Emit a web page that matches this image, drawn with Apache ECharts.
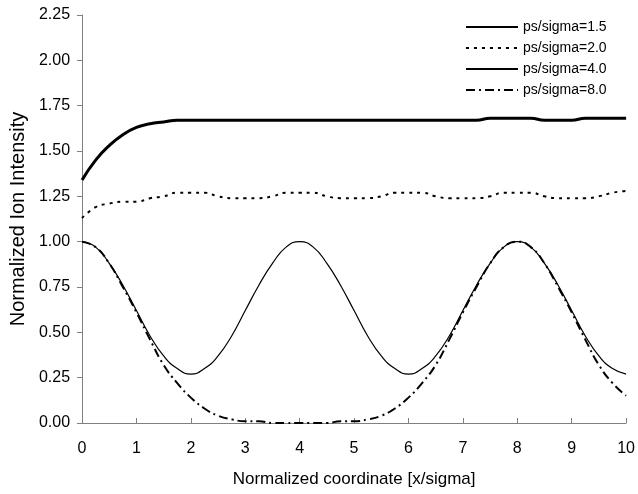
<!DOCTYPE html>
<html>
<head>
<meta charset="utf-8">
<script src="https://cdn.jsdelivr.net/npm/echarts@6/dist/echarts.min.js"></script>
<style>
  html, body { margin: 0; padding: 0; background: #fff; }
  #container { width: 638px; height: 494px; }
</style>
</head>
<body>
<div id="container"></div>
<script>
// x positions (normalized coordinate x/sigma), step 0.25
var xs = [
  0, 0.25, 0.5, 0.75, 1, 1.25, 1.5, 1.75, 2, 2.25, 2.5, 2.75, 3, 3.25, 3.5, 3.75,
  4, 4.25, 4.5, 4.75, 5, 5.25, 5.5, 5.75, 6, 6.25, 6.5, 6.75, 7, 7.25, 7.5, 7.75,
  8, 8.25, 8.5, 8.75, 9, 9.25, 9.5, 9.75, 10
];

// ps/sigma=1.5 (thick solid)
var ps15 = [
  1.34, 1.45, 1.53, 1.59, 1.63, 1.65, 1.66, 1.67, 1.67, 1.67, 1.67, 1.67, 1.67, 1.67, 1.67, 1.67,
  1.67, 1.67, 1.67, 1.67, 1.67, 1.67, 1.67, 1.67, 1.67, 1.67, 1.67, 1.67, 1.67, 1.67, 1.68, 1.68,
  1.68, 1.68, 1.67, 1.67, 1.67, 1.68, 1.68, 1.68, 1.68
];

// ps/sigma=2.0 (dotted)
var ps20 = [
  1.13, 1.19, 1.21, 1.22, 1.22, 1.24, 1.25, 1.27, 1.27, 1.27, 1.25, 1.24, 1.24, 1.24, 1.25, 1.27,
  1.27, 1.27, 1.25, 1.24, 1.24, 1.24, 1.25, 1.27, 1.27, 1.27, 1.25, 1.24, 1.24, 1.24, 1.25, 1.27,
  1.27, 1.27, 1.25, 1.24, 1.24, 1.24, 1.25, 1.27, 1.28
];

// ps/sigma=4.0 (thin solid)
var ps40 = [
  1.00, 0.97, 0.88, 0.76, 0.62, 0.48, 0.37, 0.30, 0.27, 0.30, 0.37, 0.48, 0.62, 0.76, 0.88, 0.97,
  1.00, 0.97, 0.88, 0.76, 0.62, 0.48, 0.37, 0.30, 0.27, 0.30, 0.37, 0.48, 0.62, 0.76, 0.88, 0.97,
  1.00, 0.97, 0.88, 0.76, 0.62, 0.48, 0.37, 0.30, 0.27
];

// ps/sigma=8.0 (dash-dot)
var ps80 = [
  1.00, 0.97, 0.88, 0.75, 0.61, 0.46, 0.32, 0.22, 0.14, 0.08, 0.04, 0.02, 0.01, 0.01, 0.00, 0.00,
  0.00, 0.00, 0.00, 0.01, 0.01, 0.02, 0.04, 0.08, 0.14, 0.22, 0.32, 0.46, 0.61, 0.75, 0.88, 0.97,
  1.00, 0.97, 0.88, 0.75, 0.61, 0.46, 0.32, 0.22, 0.15
];

var yTicks = [0, 0.25, 0.5, 0.75, 1, 1.25, 1.5, 1.75, 2, 2.25];
var xTicks = [0, 1, 2, 3, 4, 5, 6, 7, 8, 9, 10];

var seriesNames = ["ps/sigma=1.5", "ps/sigma=2.0", "ps/sigma=4.0", "ps/sigma=8.0"];

function pairs(ys) {
  return xs.map(function (x, i) { return [x, ys[i]]; });
}

var dom = document.getElementById("container");
var myChart = echarts.init(dom, null, { renderer: "canvas" });

var font = "Liberation Sans, Arial, sans-serif";
var option;

option = {
  animation: false,
  backgroundColor: "#fff",
  textStyle: { fontFamily: font, color: "#000" },
  grid: {
    left: 82,
    right: 11,
    top: 15,
    bottom: 71,
  },
  legend: {
    orient: "vertical",
    left: 460,
    top: 15,
    itemWidth: 52,
    itemHeight: 14,
    itemGap: 7,
    itemStyle: { opacity: 0 },
    data: seriesNames,
    textStyle: { fontFamily: font, fontSize: 14, color: "#000" },
  },
  xAxis: {
    type: "value",
    name: "Normalized coordinate [x/sigma]",
    nameLocation: "middle",
    nameGap: 48,
    nameTextStyle: { fontFamily: font, fontSize: 17, color: "#000" },
    min: xTicks[0],
    max: xTicks[xTicks.length - 1],
    interval: 1,
    splitLine: { show: false },
    axisLine: { lineStyle: { color: "#808080", width: 1 } },
    axisTick: { inside: true, length: 5, lineStyle: { color: "#808080" } },
    axisLabel: { margin: 18, fontFamily: font, fontSize: 16, color: "#000" },
  },
  yAxis: {
    type: "value",
    name: "Normalized Ion Intensity",
    nameLocation: "middle",
    nameGap: 49,
    nameTextStyle: { fontFamily: font, fontSize: 20, color: "#000" },
    min: yTicks[0],
    max: yTicks[yTicks.length - 1],
    interval: 0.25,
    splitLine: { show: false },
    axisLine: { show: true, lineStyle: { color: "#808080", width: 1 } },
    axisTick: { show: true, length: 5, lineStyle: { color: "#808080" } },
    axisLabel: {
      margin: 12,
      fontFamily: font,
      fontSize: 16,
      color: "#000",
      formatter: function (v) { return v.toFixed(2); },
    },
  },
  series: [
    {
      name: seriesNames[0],
      type: "line",
      symbol: "none",
      smooth: true,
      lineStyle: { color: "#000", width: 3 },
      data: pairs(ps15),
    },
    {
      name: seriesNames[1],
      type: "line",
      symbol: "none",
      smooth: true,
      lineStyle: { color: "#000", width: 2, type: [3, 5] },
      data: pairs(ps20),
    },
    {
      name: seriesNames[2],
      type: "line",
      symbol: "none",
      smooth: true,
      lineStyle: { color: "#000", width: 1.2 },
      data: pairs(ps40),
    },
    {
      name: seriesNames[3],
      type: "line",
      symbol: "none",
      smooth: true,
      lineStyle: { color: "#000", width: 2, type: [9, 4, 2, 4] },
      data: pairs(ps80),
    },
  ],
};

if (option && typeof option === "object") {
  myChart.setOption(option);
}
</script>
</body>
</html>
